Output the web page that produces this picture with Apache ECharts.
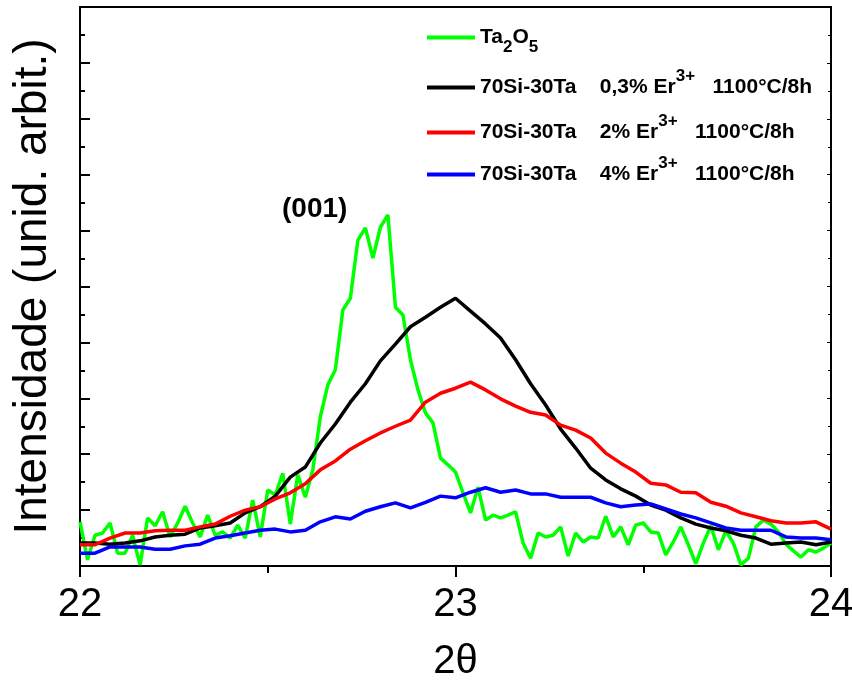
<!DOCTYPE html>
<html>
<head>
<meta charset="utf-8">
<script src="https://cdn.jsdelivr.net/npm/echarts@6/dist/echarts.min.js"></script>
<style>
  html, body { margin: 0; padding: 0; background: #fff; }
  #chart { width: 852px; height: 681px; }
</style>
</head>
<body>
<div id="chart"></div>
<script>
// 2theta grid of the Ta2O5 scan (step 0.02)
var thetaFine = [22.00,22.02,22.04,22.06,22.08,22.10,22.12,22.14,22.16,22.18,
  22.20,22.22,22.24,22.26,22.28,22.30,22.32,22.34,22.36,22.38,
  22.40,22.42,22.44,22.46,22.48,22.50,22.52,22.54,22.56,22.58,
  22.60,22.62,22.64,22.66,22.68,22.70,22.72,22.74,22.76,22.78,
  22.80,22.82,22.84,22.86,22.88,22.90,22.92,22.94,22.96,22.98,
  23.00,23.02,23.04,23.06,23.08,23.10,23.12,23.14,23.16,23.18,
  23.20,23.22,23.24,23.26,23.28,23.30,23.32,23.34,23.36,23.38,
  23.40,23.42,23.44,23.46,23.48,23.50,23.52,23.54,23.56,23.58,
  23.60,23.62,23.64,23.66,23.68,23.70,23.72,23.74,23.76,23.78,
  23.80,23.82,23.84,23.86,23.88,23.90,23.92,23.94,23.96,23.98,
  24.00];

// 2theta grid read for the 70Si-30Ta samples (step 0.04)
var thetaCoarse = [22.00,22.04,22.08,22.12,22.16,22.20,22.24,22.28,22.32,22.36,
  22.40,22.44,22.48,22.52,22.56,22.60,22.64,22.68,22.72,22.76,
  22.80,22.84,22.88,22.92,22.96,23.00,23.04,23.08,23.12,23.16,
  23.20,23.24,23.28,23.32,23.36,23.40,23.44,23.48,23.52,23.56,
  23.60,23.64,23.68,23.72,23.76,23.80,23.84,23.88,23.92,23.96,
  24.00];

var ta2o5 = [0.79,0.11,0.55,0.59,0.77,0.23,0.23,0.55,0.02,0.86,
  0.72,0.97,0.52,0.77,1.07,0.77,0.52,0.91,0.55,0.61,
  0.50,0.73,0.50,1.18,0.52,1.36,1.27,1.66,0.75,1.63,
  1.23,1.72,2.67,3.24,3.51,4.58,4.79,5.83,6.05,5.51,
  6.06,6.28,4.63,4.49,3.69,3.15,2.74,2.56,1.93,1.81,
  1.68,1.31,0.95,1.41,0.82,0.91,0.86,0.91,0.97,0.41,
  0.14,0.59,0.52,0.55,0.70,0.18,0.59,0.43,0.52,0.50,
  0.89,0.52,0.70,0.38,0.73,0.77,0.61,0.59,0.20,0.43,
  0.70,0.38,0.04,0.41,0.72,0.29,0.63,0.41,0.02,0.14,
  0.70,0.82,0.75,0.61,0.39,0.27,0.16,0.29,0.25,0.32,
  0.41];

var er03 = [0.41,0.41,0.39,0.41,0.45,0.52,0.55,0.57,0.68,0.72,
  0.77,0.95,1.06,1.25,1.59,1.77,2.20,2.54,2.93,3.26,
  3.67,3.97,4.28,4.45,4.63,4.79,4.56,4.33,4.08,3.69,
  3.26,2.88,2.45,2.11,1.75,1.54,1.38,1.25,1.09,1.00,
  0.86,0.75,0.68,0.63,0.55,0.50,0.39,0.41,0.43,0.38,
  0.43];

var er2 = [0.38,0.38,0.50,0.59,0.59,0.63,0.64,0.64,0.70,0.75,
  0.89,1.00,1.06,1.20,1.31,1.47,1.72,1.88,2.09,2.24,
  2.38,2.50,2.61,2.93,3.09,3.18,3.29,3.15,2.99,2.86,
  2.75,2.70,2.52,2.43,2.29,2.02,1.84,1.68,1.48,1.45,
  1.32,1.31,1.14,1.07,0.95,0.88,0.81,0.77,0.77,0.79,
  0.66];

var er4 = [0.23,0.23,0.34,0.34,0.34,0.30,0.30,0.36,0.39,0.50,
  0.54,0.59,0.64,0.66,0.61,0.64,0.79,0.88,0.84,0.98,
  1.06,1.13,1.04,1.14,1.25,1.22,1.32,1.40,1.32,1.36,
  1.29,1.29,1.23,1.23,1.23,1.13,1.06,1.09,1.11,1.02,
  0.93,0.86,0.77,0.68,0.64,0.64,0.64,0.52,0.50,0.50,
  0.47];

var seriesNames = ['Ta2O5', '70Si-30Ta 0,3% Er3+', '70Si-30Ta 2% Er3+', '70Si-30Ta 4% Er3+'];
// legend texts with sub/superscripts
var legendTexts = {
  'Ta2O5': '{b|Ta}{sub|2}{b|O}{sub|5}',
  '70Si-30Ta 0,3% Er3+': '{b|70Si-30Ta    0,3% Er}{sup|3+}{b|   1100°C/8h}',
  '70Si-30Ta 2% Er3+': '{b|70Si-30Ta    2% Er}{sup|3+}{b|   1100°C/8h}',
  '70Si-30Ta 4% Er3+': '{b|70Si-30Ta    4% Er}{sup|3+}{b|   1100°C/8h}'
};
var legendTops = [27, 68, 113, 155];

function pairs(xs, ys) {
  var out = [];
  for (var i = 0; i < ys.length; i++) {
    out.push([xs[i], ys[i]]);
  }
  return out;
}

function makeLegend(name, top) {
  var font = 'Liberation Sans';
  return {
    data: [name],
    left: 427,
    top: top,
    orient: 'vertical',
    padding: 0,
    icon: 'rect',
    itemWidth: 48,
    itemHeight: 4,
    selectedMode: false,
    formatter: function(n) { return legendTexts[n]; },
    textStyle: {
      color: '#000',
      fontFamily: font,
      fontWeight: 'bold',
      fontSize: 21,
      rich: {
        b: { color: '#000', fontFamily: font, fontWeight: 'bold', fontSize: 21 },
        sup: { color: '#000', fontFamily: font, fontWeight: 'bold', fontSize: 17, padding: [0, 0, 22, 0] },
        sub: { color: '#000', fontFamily: font, fontWeight: 'bold', fontSize: 17, padding: [20, 0, 0, 0] }
      }
    }
  };
}

var chart = echarts.init(document.getElementById('chart'));
var lineW = 3.5;

var option = {
  animation: false,
  backgroundColor: '#fff',
  color: ['#00ff00', '#000000', '#ff0000', '#0000ff'],
  grid: { left: 80, right: 21, top: 7, bottom: 115, containLabel: false, outerBoundsMode: 'none' },
  legend: seriesNames.map(function(n, i) { return makeLegend(n, legendTops[i]); }),
  xAxis: [{
    type: 'value',
    min: 22,
    max: 24,
    interval: 1,
    nameLocation: 'middle',
    name: '2θ',
    nameGap: 76,
    nameTextStyle: { color: '#000', fontFamily: 'Liberation Sans', fontSize: 40 },
    axisLine: { show: true, lineStyle: { color: '#000', width: 2 } },
    axisTick: { show: true, inside: false, length: 11, lineStyle: { color: '#000', width: 2 } },
    minorTick: { show: true, splitNumber: 2, length: 7, lineStyle: { color: '#000', width: 2 } },
    axisLabel: { color: '#000', fontFamily: 'Liberation Sans', fontSize: 40, margin: 19 },
    splitLine: { show: false }
  }, {
    type: 'value',
    position: 'top',
    min: 22,
    max: 24,
    interval: 1,
    axisLine: { show: true, onZero: false, lineStyle: { color: '#000', width: 2 } },
    axisTick: { show: false },
    axisLabel: { show: false },
    splitLine: { show: false }
  }],
  yAxis: [{
    type: 'value',
    min: 0,
    max: 10,
    interval: 1,
    name: 'Intensidade (unid. arbit.)',
    nameLocation: 'middle',
    nameRotate: 90,
    nameGap: 24,
    nameTextStyle: { color: '#000', fontFamily: 'Liberation Sans', fontSize: 46 },
    axisLine: { show: true, lineStyle: { color: '#000', width: 2 } },
    axisTick: { show: true, inside: true, length: 10, lineStyle: { color: '#000', width: 2 } },
    minorTick: { show: true, splitNumber: 2, length: 5, lineStyle: { color: '#000', width: 2 } },
    axisLabel: { show: false },
    splitLine: { show: false }
  }, {
    type: 'value',
    position: 'right',
    min: 0,
    max: 10,
    interval: 1,
    axisLine: { show: true, onZero: false, lineStyle: { color: '#000', width: 2 } },
    axisTick: { show: true, inside: true, length: 4, lineStyle: { color: '#000', width: 1 } },
    minorTick: { show: true, splitNumber: 2, length: 3, lineStyle: { color: '#000', width: 1 } },
    axisLabel: { show: false },
    splitLine: { show: false }
  }],
  graphic: [{
    type: 'text',
    left: 282,
    top: 195,
    style: { text: '(001)', fill: '#000', font: 'bold 28px "Liberation Sans"' }
  }],
  series: [{
    name: seriesNames[0],
    type: 'line',
    showSymbol: false,
    symbol: 'none',
    data: pairs(thetaFine, ta2o5),
    lineStyle: { color: '#00ff00', width: lineW }
  }, {
    name: seriesNames[1],
    type: 'line',
    showSymbol: false,
    symbol: 'none',
    data: pairs(thetaCoarse, er03),
    lineStyle: { color: '#000000', width: lineW }
  }, {
    name: seriesNames[2],
    type: 'line',
    showSymbol: false,
    symbol: 'none',
    data: pairs(thetaCoarse, er2),
    lineStyle: { color: '#ff0000', width: lineW }
  }, {
    name: seriesNames[3],
    type: 'line',
    showSymbol: false,
    symbol: 'none',
    data: pairs(thetaCoarse, er4),
    lineStyle: { color: '#0000ff', width: lineW }
  }]
};

chart.setOption(option);
</script>
</body>
</html>
